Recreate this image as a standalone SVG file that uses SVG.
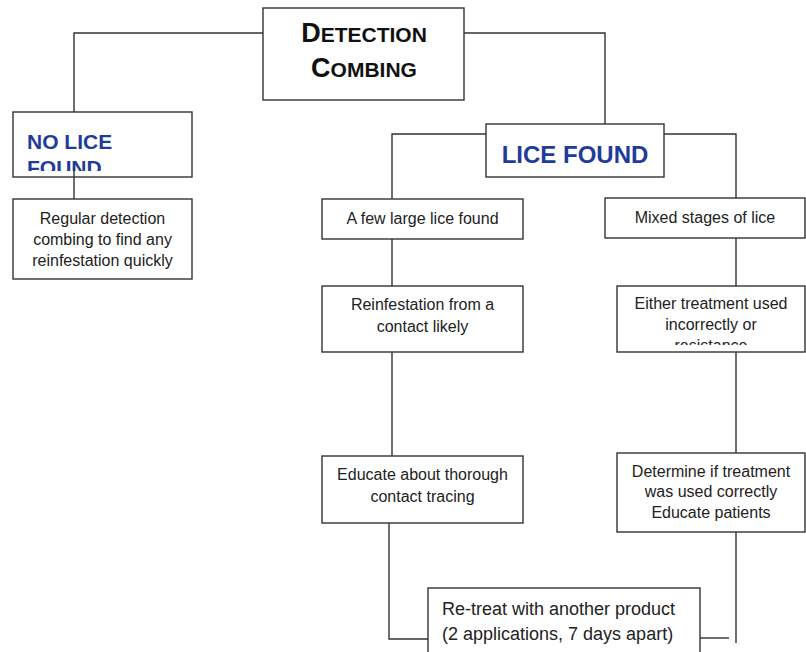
<svg xmlns="http://www.w3.org/2000/svg" width="806" height="652" viewBox="0 0 806 652">
<style>
.box{fill:#fff;stroke:#333;stroke-width:1.4}
.ln{fill:none;stroke:#333;stroke-width:1.4}
.t{font-family:"Liberation Sans",Arial,sans-serif;font-size:16px;fill:#222;text-anchor:middle}
.rt{font-family:"Liberation Sans",Arial,sans-serif;font-size:18px;fill:#222;text-anchor:start}
.big{font-family:"Liberation Sans",Arial,sans-serif;font-weight:bold;fill:#1f3c9a}
.ttl{font-family:"Liberation Sans",Arial,sans-serif;font-weight:bold;fill:#111;text-anchor:middle;font-size:21px}
</style>
<defs>
<clipPath id="c1"><rect x="13" y="112" width="179" height="59"/></clipPath>
<clipPath id="c2"><rect x="617" y="286" width="189" height="59"/></clipPath>
</defs>
<rect width="806" height="652" fill="#fff"/>
<g id="connectors">
<path class="ln" d="M263,33 H74 V112"/>
<path class="ln" d="M464,33 H605 V125"/>
<path class="ln" d="M74,171 V199"/>
<path class="ln" d="M486,134 H392 V199"/>
<path class="ln" d="M664,134 H736 V198"/>
<path class="ln" d="M392,235 V286"/>
<path class="ln" d="M736,234 V286"/>
<path class="ln" d="M392,350 V456"/>
<path class="ln" d="M736,348 V453"/>
<path class="ln" d="M389,523 V639 H428"/>
<path class="ln" d="M736,525 V643"/>
<path class="ln" d="M700,638 H729"/>
</g>
<g id="detection">
<rect class="box" x="263" y="8" width="201" height="92"/>
<text class="ttl" x="364" y="42"><tspan font-size="27">D</tspan>ETECTION</text>
<text class="ttl" x="364" y="77"><tspan font-size="27">C</tspan>OMBING</text>
</g>
<g id="nolice">
<rect class="box" x="13" y="112" width="179" height="65"/>
<g clip-path="url(#c1)">
<text class="big" x="27" y="149" font-size="21">NO LICE</text>
<text class="big" x="27" y="175" font-size="21">FOUND</text>
</g>
<path class="ln" d="M74,168 V177"/>
</g>
<g id="regular">
<rect class="box" x="13" y="199" width="179" height="80"/>
<text class="t" x="102.5" y="224">Regular detection</text>
<text class="t" x="102.5" y="245">combing to find any</text>
<text class="t" x="102.5" y="266">reinfestation quickly</text>
</g>
<g id="licefound">
<rect class="box" x="486" y="124" width="178" height="53"/>
<text class="big" x="575" y="163" font-size="24" text-anchor="middle">LICE FOUND</text>
</g>
<g id="fewlarge">
<rect class="box" x="322" y="199" width="201" height="40"/>
<text class="t" x="422.5" y="224">A few large lice found</text>
</g>
<g id="mixed">
<rect class="box" x="605" y="198" width="200" height="40"/>
<text class="t" x="705" y="223">Mixed stages of lice</text>
</g>
<g id="reinfestation">
<rect class="box" x="322" y="286" width="201" height="66"/>
<text class="t" x="422.5" y="310">Reinfestation from a</text>
<text class="t" x="422.5" y="332">contact likely</text>
</g>
<g id="either">
<rect class="box" x="617" y="286" width="188" height="66"/>
<g clip-path="url(#c2)">
<text class="t" x="711" y="309">Either treatment used</text>
<text class="t" x="711" y="330">incorrectly or</text>
<text class="t" x="711" y="351">resistance</text>
</g>
</g>
<g id="educate">
<rect class="box" x="322" y="456" width="201" height="67"/>
<text class="t" x="422.5" y="480">Educate about thorough</text>
<text class="t" x="422.5" y="502">contact tracing</text>
</g>
<g id="determine">
<rect class="box" x="617" y="453" width="188" height="79"/>
<text class="t" x="711" y="477">Determine if treatment</text>
<text class="t" x="711" y="497">was used correctly</text>
<text class="t" x="711" y="518">Educate patients</text>
</g>
<g id="retreat">
<rect class="box" x="428" y="588" width="272" height="80"/>
<text class="rt" x="442" y="615">Re-treat with another product</text>
<text class="rt" x="442" y="640">(2 applications, 7 days apart)</text>
</g>
</svg>
